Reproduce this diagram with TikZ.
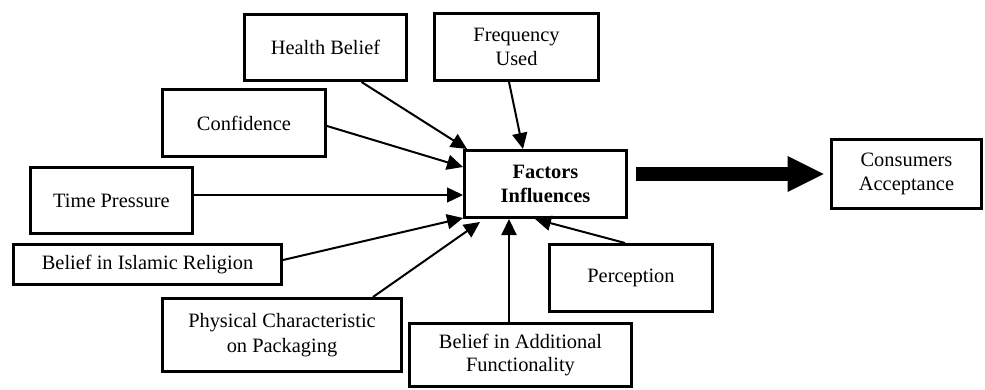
\documentclass[tikz,border=0pt]{standalone}
\usepackage{fontspec}
\setmainfont{Liberation Serif}
\usetikzlibrary{arrows.meta,calc}
\begin{document}
\begin{tikzpicture}[x=1pt,y=-1pt,
  box/.style={draw,line width=3pt,inner sep=0pt,align=center,anchor=center},
  bigtxt/.style={font=\fontsize{20.4}{24.5}\selectfont},
  smalltxt/.style={font=\fontsize{20.4}{23.5}\selectfont},
  link/.style={line width=2pt,-{Triangle[length=16pt,width=15pt]}},
  thinlink/.style={line width=1.3pt,-{Triangle[length=16pt,width=15pt]}}]
\useasboundingbox (0,0) rectangle (985,390);
\fill[white] (0,0) rectangle (985,390);
% boxes
\node[box,bigtxt,minimum width=162pt,minimum height=66pt] (health) at (325.5,47.5) {Health Belief};
\node[box,bigtxt,minimum width=164pt,minimum height=67pt] (freq) at (516.5,47) {Frequency\\Used};
\node[box,bigtxt,minimum width=163pt,minimum height=67pt] (conf) at (244,123) {Confidence};
\node[box,bigtxt,minimum width=162pt,minimum height=66pt] (time) at (111.5,200.5) {Time Pressure};
\node[box,bigtxt,minimum width=268pt,minimum height=40pt] (islam) at (147.5,264.5) {Belief in Islamic Religion};
\node[box,bigtxt,minimum width=239pt,minimum height=73pt] (phys) at (282,335) {Physical Characteristic\\on Packaging};
\node[box,smalltxt,minimum width=222pt,minimum height=63pt] (addl) at (520.5,355) {Belief in Additional\\Functionality};
\node[box,smalltxt,minimum width=163pt,minimum height=67pt] (perc) at (631,278) {Perception};
\node[box,smalltxt,minimum width=162pt,minimum height=67pt] (fact) at (545.5,184) {\textbf{Factors}\\\textbf{Influences}};
\node[box,bigtxt,minimum width=150pt,minimum height=69pt] (cons) at (906.5,174) {Consumers\\Acceptance};
% connectors
\draw[link] ($(health.south)+(36,0)$) -- ($(fact.north west)+(4,0)$);
\draw[link] ($(freq.south)+(-7.5,0)$) -- ($(fact.north west)+(60,0)$);
\draw[link] ($(conf.east)+(0,3)$) -- ($(fact.west)+(0,-17)$);
\coordinate (tstart) at ($(time.east)+(0,-5.5)$);
\draw[thinlink] (tstart) -- (fact.west |- tstart);
\draw[link] ($(islam.east)+(0,-4.5)$) -- ($(fact.south west)+(0,-1)$);
\draw[link] ($(phys.north)+(91,0)$) -- ($(fact.south west)+(17,3)$);
\coordinate (astart) at ($(addl.north west)+(101,0)$);
\draw[link] (astart) -- (astart |- fact.south);
\draw[link] ($(perc.north)+(-6,0)$) -- ($(fact.south west)+(72,0)$);
\draw[line width=14pt,-{Triangle[length=36pt,width=36pt,line width=0pt]}] ($(fact.east)+(7.5,-10)$) -- ($(cons.west)+(-6.5,0)$);
\end{tikzpicture}
\end{document}
